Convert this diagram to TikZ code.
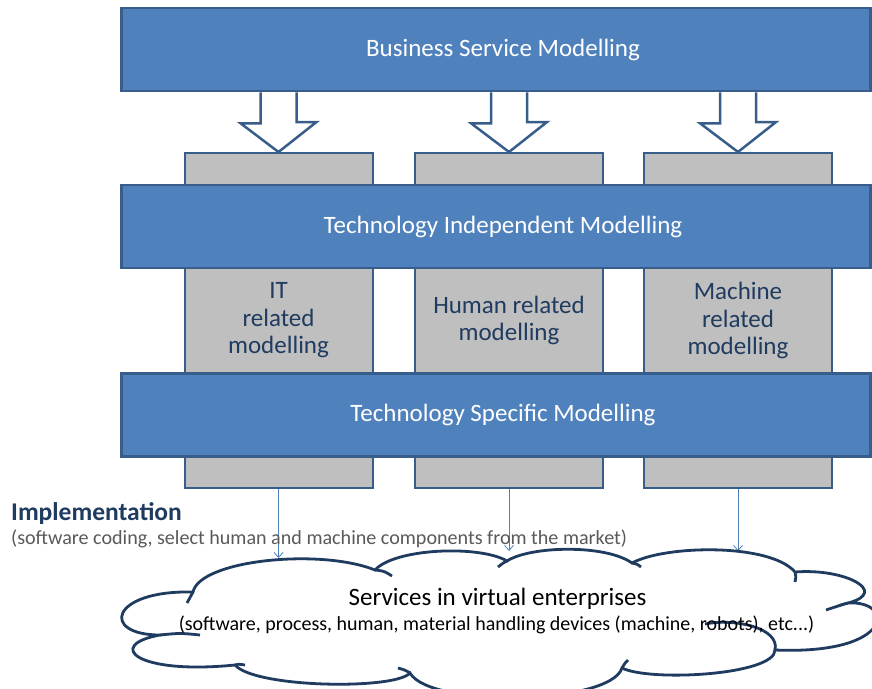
\documentclass[tikz,border=0pt]{standalone}
\usepackage{fontspec}
\setmainfont{Carlito}
\usepackage{xcolor}
\usetikzlibrary{calc,arrows.meta}
\pgfdeclarelayer{background}
\pgfsetlayers{background,main}
\definecolor{barblue}{HTML}{4F81BD}
\definecolor{barline}{HTML}{385D8A}
\definecolor{colgray}{HTML}{BFBFBF}
\definecolor{navy}{HTML}{1F3B5F}
\definecolor{subgray}{HTML}{595959}

\begin{document}
\begin{tikzpicture}[x=1pt, y=-1pt,
    bar/.style={draw=barline, fill=barblue, line width=2.5pt, minimum width=749pt,
        minimum height=83pt, inner sep=0pt, text=white, font=\fontsize{25}{29}\selectfont},
    column/.style={draw=barline, fill=colgray, line width=2pt, minimum width=188pt,
        minimum height=335pt, inner sep=0pt, text=navy, align=center,
        font=\fontsize{25}{27.5}\selectfont},
    hollow/.style={draw=barline, fill=white, line width=2.5pt, line join=miter},
    thinarrow/.style={draw=barblue, line width=0.8pt, -{Straight Barb[length=5pt,width=9pt]}},
    cloudline/.style={draw=navy, line width=2.8pt}]
    \useasboundingbox (0,0) rectangle (872,688);
    % the three layers
    \node[bar] (bsm) at (496,49.5) {\hspace*{14pt}Business Service Modelling};
    \node[bar] (tim) at (496,226.5) {\hspace*{14pt}Technology Independent Modelling};
    \node[bar] (tsm) at (496,415) {\hspace*{14pt}Technology Specific Modelling};
    \begin{pgfonlayer}{background}
        \node[column] (itcol) at (278.5,320.5) {IT\\related\\modelling};
        \node[column] (humcol) at (509,320.5) {Human related\\modelling};
        \node[column] (maccol) at (738,320.5) {Machine\\related\\modelling};
        \foreach \c in {itcol,humcol,maccol}{
            \draw[hollow] ($(bsm.south -| \c.north)+(-18,0)$) -- ++(0,31) -- ++(-20,0)
                -- (\c.north) -- ++(38,-30) -- ++(-20,0) -- ($(bsm.south -| \c.north)+(18,0)$);
        }
    \end{pgfonlayer}
    \foreach \c/\len in {itcol/69,humcol/62,maccol/62}
        \draw[thinarrow] (\c.south) -- ++(0,\len);
    \node[anchor=base west, inner sep=0pt, text=navy, font=\fontsize{25.5}{29}\selectfont\bfseries]
        (impl) at (11,520) {Implementation};
    \node[anchor=base west, inner sep=0pt, text=subgray, font=\fontsize{20.1}{24}\selectfont]
        (implsub) at (11,544) {(software coding, select human and machine components from the market)};
    % cloud
    \draw[cloudline, fill=white] (193,592) .. controls (200,560) and (320,548) .. (375,570)
        .. controls (395,548) and (480,545) .. (507,561)
        .. controls (530,546) and (605,544) .. (632,563)
        .. controls (665,545) and (770,543) .. (795,572)
        .. controls (845,568) and (890,592) .. (848,603)
        .. controls (895,600) and (895,655) .. (775,650)
        .. controls (775,675) and (650,682) .. (622,668)
        .. controls (610,705) and (430,708) .. (410,673)
        .. controls (395,690) and (255,688) .. (235,665)
        .. controls (135,675) and (105,645) .. (160,635)
        .. controls (100,635) and (110,590) .. (193,592) -- cycle;
    \draw[cloudline] (193,592) .. controls (190,597) .. (187,603);
    \draw[cloudline] (375,570) .. controls (384,571) .. (392,576);
    \draw[cloudline] (507,561) .. controls (503,563) .. (498,567);
    \draw[cloudline] (632,563) .. controls (637,564) .. (641,567);
    \draw[cloudline] (795,572) .. controls (796,577) .. (795,582);
    \draw[cloudline] (848,603) .. controls (838,606) .. (826,610);
    \draw[cloudline] (775,650) .. controls (780,628) and (735,618) .. (705,624);
    \draw[cloudline] (622,668) .. controls (625,663) .. (628,660);
    \draw[cloudline] (410,673) .. controls (405,670) .. (398,668);
    \draw[cloudline] (235,665) .. controls (238,664) .. (245,665);
    \draw[cloudline] (160,635) .. controls (180,633) .. (200,635);
    \node[anchor=base, inner sep=0pt, font=\fontsize{25}{29}\selectfont] (svc) at (497.5,605)
        {Services in virtual enterprises};
    \node[anchor=base, inner sep=0pt, font=\fontsize{20}{24}\selectfont] (svcsub) at (496.5,630)
        {(software, process, human, material handling devices (machine, robots), etc...)};
\end{tikzpicture}
\end{document}
